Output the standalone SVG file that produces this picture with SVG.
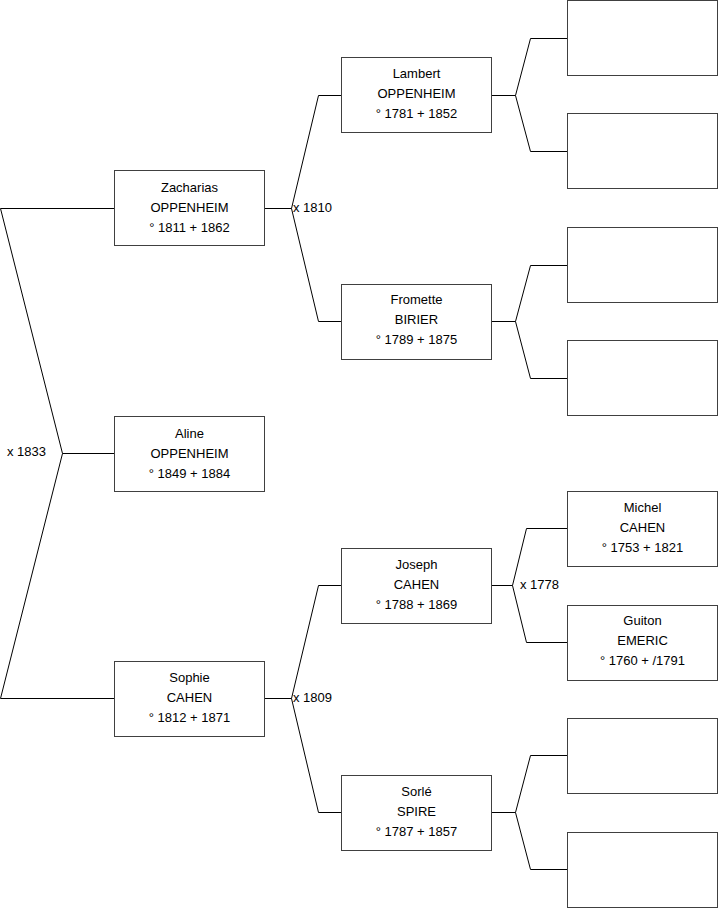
<svg xmlns="http://www.w3.org/2000/svg" width="719" height="908" viewBox="0 0 719 908">
<style>
.b{fill:#fff;stroke:#404040;stroke-width:1}
.c{fill:none;stroke:#000;stroke-width:1}
text{font-family:"Liberation Sans",Arial,sans-serif;font-size:13px;fill:#000}
.m{text-anchor:middle}
</style>
<rect width="719" height="908" fill="#fff"/>
<g id="connectors">
<polyline class="c" points="114,208.5 0.5,208.5 62.5,453.5 0.5,698.5 114,698.5"/>
<line class="c" x1="62.5" y1="453.5" x2="114" y2="453.5"/>
<text x="7" y="456">x 1833</text>
<polyline class="c" points="265,208.5 291.5,208.5"/>
<polyline class="c" points="341,95.5 318.5,95.5 291.5,208.5 318.5,321.5 341,321.5"/>
<text x="293" y="212">x 1810</text>
<polyline class="c" points="265,698.5 291.5,698.5"/>
<polyline class="c" points="341,585.5 318.5,585.5 291.5,698.5 318.5,812.5 341,812.5"/>
<text x="293" y="702">x 1809</text>
<polyline class="c" points="492,95.5 515.5,95.5"/>
<polyline class="c" points="567,38.5 530.5,38.5 515.5,95.5 530.5,151.5 567,151.5"/>
<polyline class="c" points="492,321.5 515.5,321.5"/>
<polyline class="c" points="567,265.5 530.5,265.5 515.5,321.5 530.5,378.5 567,378.5"/>
<polyline class="c" points="492,585.5 512.5,585.5"/>
<polyline class="c" points="567,528.5 526.5,528.5 512.5,585.5 526.5,642.5 567,642.5"/>
<text x="520" y="589">x 1778</text>
<polyline class="c" points="492,812.5 515.5,812.5"/>
<polyline class="c" points="567,755.5 530.5,755.5 515.5,812.5 530.5,869.5 567,869.5"/>
</g>
<g id="zacharias"><rect class="b" x="114.5" y="170.5" width="150" height="75"/><text class="m" x="189.5" y="192">Zacharias</text><text class="m" x="189.5" y="212">OPPENHEIM</text><text class="m" x="189.5" y="232">° 1811 + 1862</text></g>
<g id="aline"><rect class="b" x="114.5" y="416.5" width="150" height="75"/><text class="m" x="189.5" y="438">Aline</text><text class="m" x="189.5" y="458">OPPENHEIM</text><text class="m" x="189.5" y="478">° 1849 + 1884</text></g>
<g id="sophie"><rect class="b" x="114.5" y="661.5" width="150" height="75"/><text class="m" x="189.5" y="682">Sophie</text><text class="m" x="189.5" y="702">CAHEN</text><text class="m" x="189.5" y="722">° 1812 + 1871</text></g>
<g id="lambert"><rect class="b" x="341.5" y="57.5" width="150" height="75"/><text class="m" x="416.5" y="78">Lambert</text><text class="m" x="416.5" y="98">OPPENHEIM</text><text class="m" x="416.5" y="118">° 1781 + 1852</text></g>
<g id="fromette"><rect class="b" x="341.5" y="284.5" width="150" height="75"/><text class="m" x="416.5" y="304">Fromette</text><text class="m" x="416.5" y="324">BIRIER</text><text class="m" x="416.5" y="344">° 1789 + 1875</text></g>
<g id="joseph"><rect class="b" x="341.5" y="548.5" width="150" height="75"/><text class="m" x="416.5" y="569">Joseph</text><text class="m" x="416.5" y="589">CAHEN</text><text class="m" x="416.5" y="609">° 1788 + 1869</text></g>
<g id="sorle"><rect class="b" x="341.5" y="775.5" width="150" height="75"/><text class="m" x="416.5" y="796">Sorlé</text><text class="m" x="416.5" y="816">SPIRE</text><text class="m" x="416.5" y="836">° 1787 + 1857</text></g>
<g id="p1"><rect class="b" x="567.5" y="0.5" width="150" height="75"/></g>
<g id="p2"><rect class="b" x="567.5" y="113.5" width="150" height="75"/></g>
<g id="p3"><rect class="b" x="567.5" y="227.5" width="150" height="75"/></g>
<g id="p4"><rect class="b" x="567.5" y="340.5" width="150" height="75"/></g>
<g id="michel"><rect class="b" x="567.5" y="491.5" width="150" height="75"/><text class="m" x="642.5" y="512">Michel</text><text class="m" x="642.5" y="532">CAHEN</text><text class="m" x="642.5" y="552">° 1753 + 1821</text></g>
<g id="guiton"><rect class="b" x="567.5" y="605.5" width="150" height="75"/><text class="m" x="642.5" y="625">Guiton</text><text class="m" x="642.5" y="645">EMERIC</text><text class="m" x="642.5" y="665">° 1760 + /1791</text></g>
<g id="p7"><rect class="b" x="567.5" y="718.5" width="150" height="75"/></g>
<g id="p8"><rect class="b" x="567.5" y="832.5" width="150" height="75"/></g>
</svg>
